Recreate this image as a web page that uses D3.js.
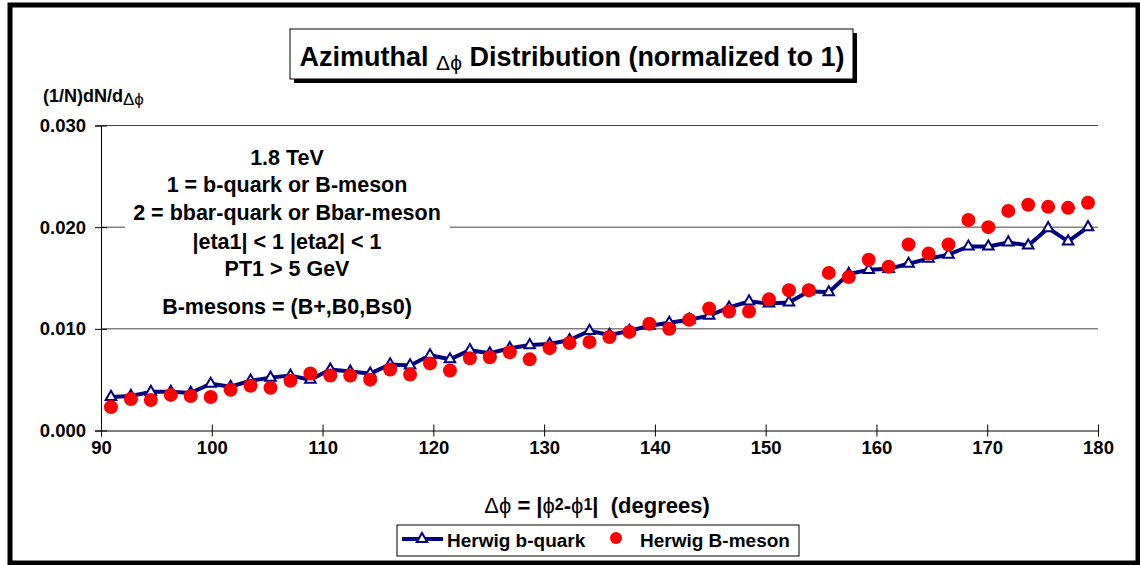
<!DOCTYPE html>
<html>
<head>
<meta charset="utf-8">
<script src="https://cdn.jsdelivr.net/npm/d3@7"></script>
<style>
  body { margin: 0; background: #fff; }
  text { font-family: Arial, "Liberation Sans", sans-serif; font-weight: bold; fill: #000; }
</style>
</head>
<body>
<div class="chart"></div>
<script>
// bin centres (degrees) and the two normalized distributions
const degrees = [90.9, 92.7, 94.5, 96.3, 98.1, 99.9, 101.7, 103.5, 105.3, 107.1,
  108.9, 110.7, 112.5, 114.3, 116.1, 117.9, 119.7, 121.5, 123.3, 125.1,
  126.9, 128.7, 130.5, 132.3, 134.1, 135.9, 137.7, 139.5, 141.3, 143.1,
  144.9, 146.7, 148.5, 150.3, 152.1, 153.9, 155.7, 157.5, 159.3, 161.1,
  162.9, 164.7, 166.5, 168.3, 170.1, 171.9, 173.7, 175.5, 177.3, 179.1];

const bQuark = [0.0033, 0.0034, 0.0038, 0.0038, 0.0037, 0.0046, 0.0043, 0.0049, 0.0052, 0.0054,
  0.0050, 0.0060, 0.0058, 0.0056, 0.0065, 0.0064, 0.0074, 0.0070, 0.0079, 0.0076,
  0.0081, 0.0084, 0.0085, 0.0089, 0.0098, 0.0094, 0.0098, 0.0103, 0.0106, 0.0109,
  0.0113, 0.0121, 0.0127, 0.0125, 0.0126, 0.0137, 0.0136, 0.0154, 0.0158, 0.0159,
  0.0164, 0.0169, 0.0173, 0.0181, 0.0181, 0.0185, 0.0182, 0.0199, 0.0186, 0.0200];

const bMeson = [0.0023, 0.0031, 0.0030, 0.0035, 0.0034, 0.0033, 0.0040, 0.0044, 0.0042, 0.0049,
  0.0056, 0.0054, 0.0054, 0.0050, 0.0060, 0.0055, 0.0066, 0.0059, 0.0071, 0.0072,
  0.0077, 0.0070, 0.0081, 0.0086, 0.0087, 0.0092, 0.0097, 0.0105, 0.0100, 0.0109,
  0.0120, 0.0117, 0.0117, 0.0129, 0.0138, 0.0138, 0.0155, 0.0151, 0.0168, 0.0161,
  0.0183, 0.0174, 0.0183, 0.0207, 0.0200, 0.0216, 0.0222, 0.0220, 0.0219, 0.0224];

const xTicks = [90, 100, 110, 120, 130, 140, 150, 160, 170, 180];
const yTicks = [0, 0.010, 0.020, 0.030];
const seriesNames = ['Herwig b-quark', 'Herwig B-meson'];
const infoLines = ['1.8 TeV', '1 = b-quark or B-meson', '2 = bbar-quark or Bbar-meson',
  '|eta1| < 1 |eta2| < 1', 'PT1 > 5 GeV', 'B-mesons = (B+,B0,Bs0)'];

const w = 1140;
const h = 565;
const margin = { top: 125.5, right: 42, bottom: 134.5, left: 101 };
const navy = '#000080';
const red = '#ff0000';
const PHI = '\u03d5';

const svg = d3.select('.chart')
  .append('svg')
  .attr('width', w)
  .attr('height', h);

// outer frame
svg.append('rect')
  .attr('x', 10).attr('y', 5)
  .attr('width', 1128).attr('height', 558)
  .attr('fill', 'none')
  .attr('stroke', '#000')
  .attr('stroke-width', 5);

const x = d3.scaleLinear().domain([90, 180]).range([margin.left, w - margin.right]);
const y = d3.scaleLinear().domain([0, 0.030]).range([h - margin.bottom, margin.top]);

// gridlines
svg.append('g')
  .selectAll('line')
  .data(yTicks.filter(d => d > 0))
  .enter()
  .append('line')
  .attr('x1', x(90)).attr('x2', x(180))
  .attr('y1', d => y(d)).attr('y2', d => y(d))
  .attr('stroke', '#444')
  .attr('stroke-width', 1);

// annotation box
svg.append('rect')
  .attr('x', 125).attr('y', 136)
  .attr('width', 325).attr('height', 188)
  .attr('fill', '#fff');

const infoY = [165, 192, 220, 249, 276, 314];
svg.append('g')
  .selectAll('text')
  .data(infoLines)
  .enter()
  .append('text')
  .attr('x', 287)
  .attr('y', (d, i) => infoY[i])
  .attr('text-anchor', 'middle')
  .style('font-size', '21.5px')
  .text(d => d);

// axes
const yAxis = svg.append('g')
  .attr('transform', `translate(${margin.left},0)`)
  .call(d3.axisLeft(y).tickValues(yTicks).tickFormat(d3.format('.3f')).tickSize(6).tickPadding(9));

const xAxis = svg.append('g')
  .attr('transform', `translate(0,${h - margin.bottom})`)
  .call(d3.axisBottom(x).tickValues(xTicks).tickSize(6).tickPadding(4));

[yAxis, xAxis].forEach(a => {
  a.select('.domain').attr('stroke', '#000').attr('stroke-width', 1);
  a.selectAll('.tick text')
    .style('font-family', 'Arial, "Liberation Sans", sans-serif')
    .style('font-weight', 'bold')
    .style('font-size', '18.5px')
    .attr('fill', '#000');
});
yAxis.selectAll('.tick line').attr('x1', 6).attr('x2', -6).attr('stroke', '#000');
xAxis.selectAll('.tick line').attr('y1', -6).attr('y2', 6).attr('stroke', '#000');
xAxis.selectAll('.tick text').attr('dy', '0.75em');

// b-quark line with triangles
const quarkData = degrees.map((d, i) => [d, bQuark[i]]);
const mesonData = degrees.map((d, i) => [d, bMeson[i]]);

svg.append('path')
  .datum(quarkData)
  .attr('fill', 'none')
  .attr('stroke', navy)
  .attr('stroke-width', 4)
  .attr('stroke-linejoin', 'round')
  .attr('d', d3.line().x(d => x(d[0])).y(d => y(d[1])));

const tri = d3.symbol().type(d3.symbolTriangle).size(48);

svg.append('g')
  .selectAll('path')
  .data(quarkData)
  .enter()
  .append('path')
  .attr('d', tri)
  .attr('transform', d => `translate(${x(d[0])},${y(d[1])})`)
  .attr('fill', '#fff')
  .attr('stroke', navy)
  .attr('stroke-width', 2);

// B-meson dots
svg.append('g')
  .selectAll('circle')
  .data(mesonData)
  .enter()
  .append('circle')
  .attr('cx', d => x(d[0]))
  .attr('cy', d => y(d[1]))
  .attr('r', 7)
  .attr('fill', red);

// title box with shadow
svg.append('rect')
  .attr('x', 294).attr('y', 33)
  .attr('width', 563).attr('height', 50)
  .attr('fill', '#000');
svg.append('rect')
  .attr('x', 290).attr('y', 29)
  .attr('width', 563).attr('height', 50)
  .attr('fill', '#fff')
  .attr('stroke', '#000')
  .attr('stroke-width', 1);

const title = svg.append('text')
  .attr('x', 572).attr('y', 66)
  .attr('text-anchor', 'middle')
  .style('font-size', '27px');
title.append('tspan').text('Azimuthal ');
title.append('tspan').attr('dy', 4).style('font-size', '21px').style('font-weight', 'normal').text('Δ' + PHI);
title.append('tspan').attr('dy', -4).text(' Distribution (normalized to 1)');

// y axis label
const yLabel = svg.append('text')
  .attr('x', 43).attr('y', 102)
  .style('font-size', '18px');
yLabel.append('tspan').text('(1/N)dN/d');
yLabel.append('tspan').attr('dy', 3).style('font-size', '17px').style('font-weight', 'normal').text('Δ' + PHI);

// x axis label
const xLabel = svg.append('text')
  .attr('x', 597).attr('y', 513)
  .attr('text-anchor', 'middle')
  .attr('xml:space', 'preserve')
  .style('font-size', '22px');
xLabel.append('tspan').style('font-weight', 'normal').text('Δ' + PHI);
xLabel.append('tspan').text(' = |');
xLabel.append('tspan').style('font-weight', 'normal').text(PHI);
xLabel.append('tspan').attr('dy', -3).style('font-size', '16px').text('2');
xLabel.append('tspan').attr('dy', 3).text('-');
xLabel.append('tspan').style('font-weight', 'normal').text(PHI);
xLabel.append('tspan').attr('dy', -3).style('font-size', '16px').text('1');
xLabel.append('tspan').attr('dy', 3).text('|\u00a0\u00a0(degrees)');

// legend
const legend = svg.append('g');
legend.append('rect')
  .attr('x', 397).attr('y', 525)
  .attr('width', 402).attr('height', 31)
  .attr('fill', '#fff')
  .attr('stroke', '#000')
  .attr('stroke-width', 1);
legend.append('line')
  .attr('x1', 402).attr('x2', 443)
  .attr('y1', 539).attr('y2', 539)
  .attr('stroke', navy)
  .attr('stroke-width', 4);
legend.append('path')
  .attr('d', tri)
  .attr('transform', 'translate(422,539)')
  .attr('fill', '#fff')
  .attr('stroke', navy)
  .attr('stroke-width', 2);
legend.append('text')
  .attr('x', 447).attr('y', 547)
  .style('font-size', '19px')
  .text(seriesNames[0]);
legend.append('circle')
  .attr('cx', 616).attr('cy', 538)
  .attr('r', 6)
  .attr('fill', red);
legend.append('text')
  .attr('x', 640).attr('y', 547)
  .style('font-size', '19px')
  .text(seriesNames[1]);
</script>
</body>
</html>
